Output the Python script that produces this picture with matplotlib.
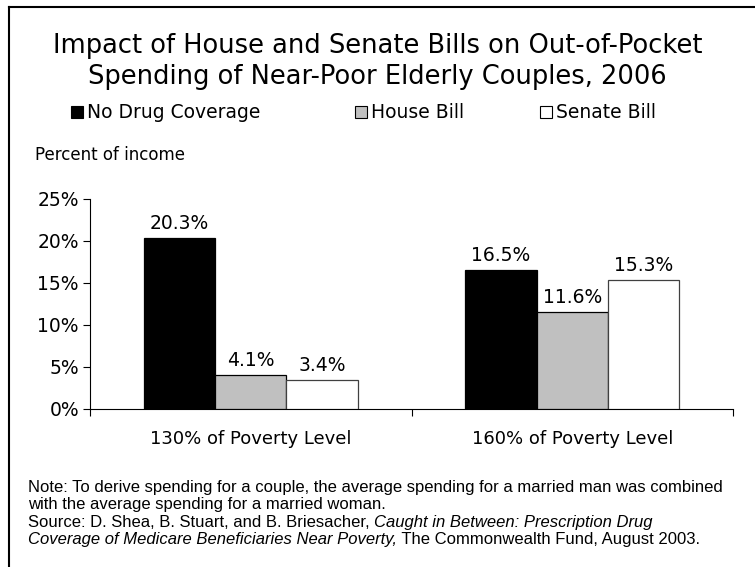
import matplotlib
matplotlib.use("Agg")
import matplotlib.pyplot as plt
import matplotlib.ticker as mticker
from matplotlib.lines import Line2D
from matplotlib.patches import Rectangle
import numpy as np

# ── Data ─────────────────────────────────────────────────────────────────────
categories = ["130% of Poverty Level", "160% of Poverty Level"]
series_names = ["No Drug Coverage", "House Bill", "Senate Bill"]
no_coverage = [20.3, 16.5]
house_bill = [4.1, 11.6]
senate_bill = [3.4, 15.3]
yticks = [0, 5, 10, 15, 20, 25]

COLORS = ["#000000", "#C0C0C0", "#FFFFFF"]
EDGES = ["#000000", "#000000", "#404040"]
FONT = "DejaVu Sans"

fig = plt.figure(figsize=(7.55, 5.67), dpi=100)
ax = fig.add_axes([90 / 755, 1 - 409 / 567, (733 - 90) / 755, (409 - 199) / 567])

x = np.arange(len(categories))
bw = 2 / 9
for i, (vals, color, ec) in enumerate(zip([no_coverage, house_bill, senate_bill], COLORS, EDGES)):
    pos = x + (i - 1) * bw
    bars = ax.bar(pos, vals, width=bw, color=color, edgecolor=ec, lw=0.9, zorder=3)
    for b, v in zip(bars, vals):
        ax.text(b.get_x() + b.get_width() / 2, v + 0.6, f"{v:.1f}%",
                ha="center", va="bottom", fontsize=13.5, family=FONT)

ax.set_xlim(-0.5, len(categories) - 0.5)
ax.set_ylim(0, 25)
ax.set_yticks(yticks)
ax.set_yticklabels([f"{t}%" for t in yticks], fontsize=13.5, family=FONT)
ax.tick_params(axis="y", length=5, width=0.8, pad=3)
ax.set_xticks(x)
ax.set_xticklabels(categories, fontsize=13, family=FONT)
ax.tick_params(axis="x", which="major", length=0, pad=15)
ax.xaxis.set_minor_locator(mticker.FixedLocator(np.arange(-0.5, len(categories), 1.0)))
ax.tick_params(axis="x", which="minor", length=5, width=0.8, direction="out")
for s in ["top", "right"]:
    ax.spines[s].set_visible(False)
for s in ["left", "bottom"]:
    ax.spines[s].set_linewidth(0.8)

# ── Title ──
fig.text(0.5, 1 - 53 / 567, "Impact of House and Senate Bills on Out-of-Pocket",
         ha="center", va="baseline", fontsize=18.5, family=FONT)
fig.text(0.5, 1 - 84 / 567, "Spending of Near-Poor Elderly Couples, 2006",
         ha="center", va="baseline", fontsize=18.5, family=FONT)

# ── Legend ──
leg_x = [71, 355, 540]
for lx, name, color in zip(leg_x, series_names, COLORS):
    fig.add_artist(Rectangle((lx / 755, 1 - 118 / 567), 12 / 755, 12 / 567,
                             facecolor=color, edgecolor="#000000", lw=0.8,
                             transform=fig.transFigure))
    fig.text((lx + 16) / 755, 1 - 118 / 567, name, ha="left", va="baseline",
             fontsize=13.5, family=FONT)

fig.text(35 / 755, 1 - 160 / 567, "Percent of income", ha="left", va="baseline",
         fontsize=12, family=FONT)

# ── Notes ──
note_kw = dict(ha="left", va="baseline", fontsize=12, family="Liberation Sans")
fig.text(28 / 755, 1 - 492 / 567,
         "Note: To derive spending for a couple, the average spending for a married man was combined",
         **note_kw)
fig.text(28 / 755, 1 - 509 / 567, "with the average spending for a married woman.", **note_kw)
t1 = fig.text(28 / 755, 1 - 527 / 567, "Source: D. Shea, B. Stuart, and B. Briesacher, ", **note_kw)
fig.canvas.draw()
bb = t1.get_window_extent()
fig.text(bb.x1 / fig.bbox.width, 1 - 527 / 567, "Caught in Between: Prescription Drug",
         style="italic", **note_kw)
t2 = fig.text(28 / 755, 1 - 544 / 567,
              "Coverage of Medicare Beneficiaries Near Poverty,", style="italic", **note_kw)
fig.canvas.draw()
bb = t2.get_window_extent()
fig.text(bb.x1 / fig.bbox.width, 1 - 544 / 567, " The Commonwealth Fund, August 2003.", **note_kw)

# ── Frame lines (left and top) ──
fig.add_artist(Line2D([9 / 755, 9 / 755], [0, 1 - 7 / 567], color="black", lw=1.5,
                      transform=fig.transFigure))
fig.add_artist(Line2D([9 / 755, 1], [1 - 7 / 567, 1 - 7 / 567], color="black", lw=1.5,
                      transform=fig.transFigure))

fig.savefig("out.png", dpi=100)
